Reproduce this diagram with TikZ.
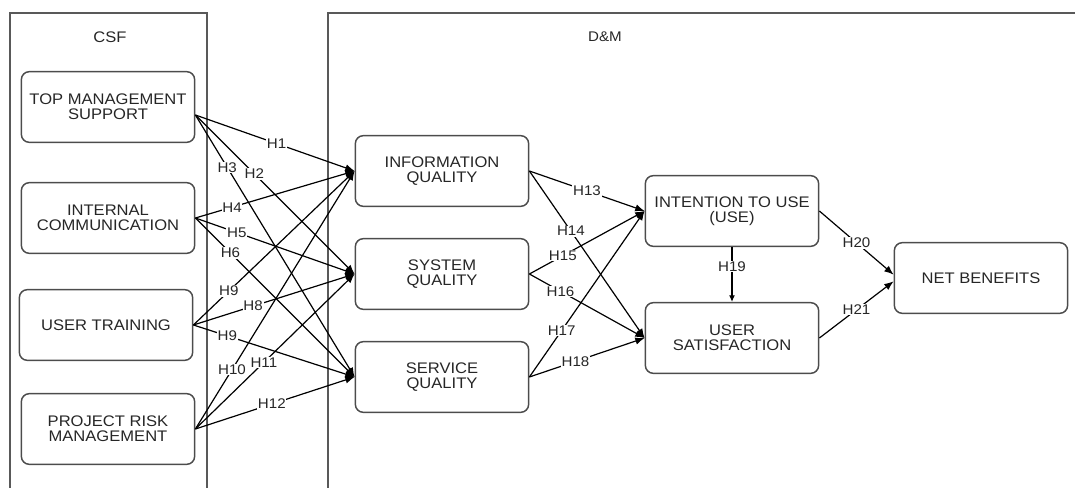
\documentclass[tikz,border=0pt]{standalone}
\usepackage{fontspec}
\setmainfont{Liberation Sans}[FakeStretch=1.08]
\usetikzlibrary{arrows.meta}

\begin{document}
\begin{tikzpicture}[x=0.75pt,y=-0.75pt,
  every node/.style={font=\fontsize{11.5}{11.5}\selectfont,text=black!85},
  box/.style={draw=black!70,line width=1.1pt,rounded corners=6pt,minimum width=130pt,minimum height=53pt,align=center},
  hyp/.style={-{Latex[length=7pt,width=5.5pt]},line width=0.9pt},
  lab/.style={fill=white,inner sep=0.6pt,font=\fontsize{10.5}{12}\selectfont}]
\clip (0,0) rectangle (1075,488);
% CSF and D&M frames (open at the bottom)
\draw[black!65,line width=1.1pt] (10,500) |- (207,13) -- (207,500);
\draw[black!65,line width=1.1pt] (328,500) |- (1090,13);
\node (csf) at (110,37) {CSF};
\node[font=\fontsize{10.5}{12}\selectfont] (dm) at (605,37) {D\&M};
% success factors
\node[box] (tms) at (108,107) {TOP MANAGEMENT\\SUPPORT};
\node[box] (ic) at (108,218) {INTERNAL\\COMMUNICATION};
\node[box] (ut) at (106,325) {USER TRAINING};
\node[box] (prm) at (108,429) {PROJECT RISK\\MANAGEMENT};
% D&M model
\node[box] (iq) at (442,171) {INFORMATION\\QUALITY};
\node[box] (sq) at (442,274) {SYSTEM\\QUALITY};
\node[box] (svq) at (442,377) {SERVICE\\QUALITY};
\node[box] (iu) at (732,211) {INTENTION TO USE\\(USE)};
\node[box] (us) at (732,338) {USER\\SATISFACTION};
\node[box] (nb) at (981,278) {NET BENEFITS};
\coordinate (tmsO) at ([yshift=-6pt]tms.east);
% hypotheses H1--H18
\foreach \a/\b/\h/\p in {tmsO/iq/H1/0.51, tmsO/sq/H2/0.37, tmsO/svq/H3/0.2,
    ic.east/iq/H4/0.23, ic.east/sq/H5/0.26, ic.east/svq/H6/0.22,
    ut.east/iq/H9/0.22, ut.east/sq/H8/0.37, ut.east/svq/H9/0.21,
    prm.east/iq/H10/0.23, prm.east/sq/H11/0.43, prm.east/svq/H12/0.48,
    iq.east/iu/H13/0.5, iq.east/us/H14/0.36, sq.east/iu/H15/0.29,
    sq.east/us/H16/0.27, svq.east/iu/H17/0.28, svq.east/us/H18/0.4} {
  \draw[hyp] (\a) -- (\b.west) node[lab,pos=\p] {\h};
}
% H19--H21
\draw[-{Latex[length=5pt,width=4.5pt]},line width=0.9pt] (iu.south) -- (us.north) node[lab,pos=0.35] {H19};
\draw[hyp] (iu.east) -- ([yshift=2.5pt]nb.west) node[lab,pos=0.5] {H20};
\draw[hyp] (us.east) -- ([yshift=-2.5pt]nb.west) node[lab,pos=0.5] {H21};
\end{tikzpicture}
\end{document}
